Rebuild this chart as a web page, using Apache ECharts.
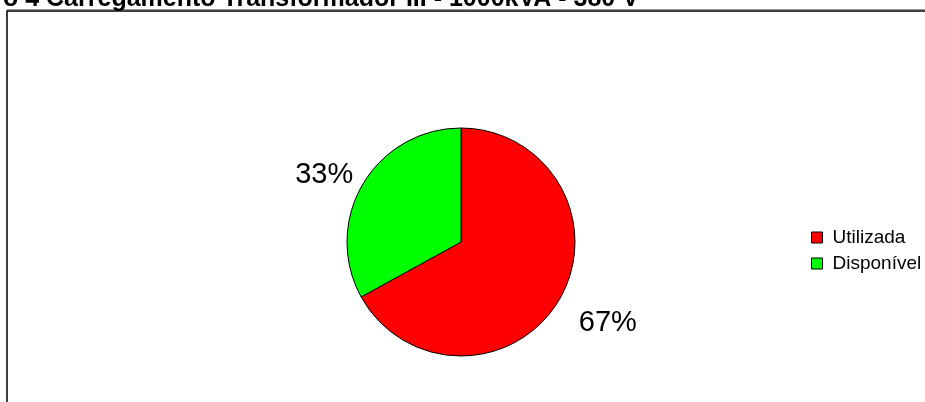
<!DOCTYPE html>
<html>
<head>
<meta charset="utf-8">
<script src="https://cdn.jsdelivr.net/npm/echarts@6/dist/echarts.min.js"></script>
<style>
html,body{margin:0;padding:0;background:#fff;}
#chart{width:925px;height:402px;}
</style>
</head>
<body>
<div id="chart"></div>
<script>
const titleText = 'o 4 Carregamento Transformador III - 1000kVA - 380 V';
const categories = ['Utilizada', 'Disponível'];
const values = [67, 33];
const colors = ['#ff0000', '#00ff00'];

const data = categories.map((c, i) => ({ name: c, value: values[i], itemStyle: { color: colors[i] } }));

const chart = echarts.init(document.getElementById('chart'), null, { renderer: 'canvas' });
chart.setOption({
  animation: false,
  backgroundColor: '#fff',
  title: {
    text: titleText,
    left: -2,
    top: -18,
    textStyle: { fontFamily: 'Liberation Sans', fontWeight: 'bold', fontSize: 25, color: '#000' }
  },
  graphic: [
    { type: 'line', silent: true, shape: { x1: 7, y1: 9.5, x2: 930, y2: 9.5 }, style: { stroke: '#999', lineWidth: 1 } },
    { type: 'rect', silent: true, shape: { x: 7, y: 11, width: 1000, height: 1000 }, style: { stroke: '#000', lineWidth: 1.5, fill: null } }
  ],
  legend: {
    orient: 'vertical',
    left: 811,
    top: 228,
    padding: 0,
    itemWidth: 11,
    itemHeight: 11,
    itemGap: 7,
    icon: 'rect',
    itemStyle: { borderColor: '#000', borderWidth: 1 },
    textStyle: { fontFamily: 'Liberation Sans', fontSize: 19, color: '#000', padding: [0, 0, 0, 5], lineHeight: 19 },
    data: categories
  },
  series: [
    {
      type: 'pie',
      center: [461, 242],
      radius: 114,
      startAngle: 90,
      clockwise: true,
      label: { show: false },
      labelLine: { show: false },
      itemStyle: { borderColor: '#000', borderWidth: 1 },
      emphasis: { disabled: true },
      data: data
    },
    {
      type: 'pie',
      center: [466, 249],
      radius: [141, 173],
      startAngle: 93,
      clockwise: true,
      silent: true,
      legendHoverLink: false,
      itemStyle: { color: 'rgba(0,0,0,0)', borderWidth: 0 },
      label: {
        show: true,
        position: 'inside',
        formatter: p => Math.round(p.percent) + '%',
        fontFamily: 'Liberation Sans',
        fontSize: 29,
        color: '#000'
      },
      labelLine: { show: false },
      emphasis: { disabled: true },
      data: categories.map((c, i) => ({ name: c + ' ', value: values[i] }))
    }
  ]
});
</script>
</body>
</html>
